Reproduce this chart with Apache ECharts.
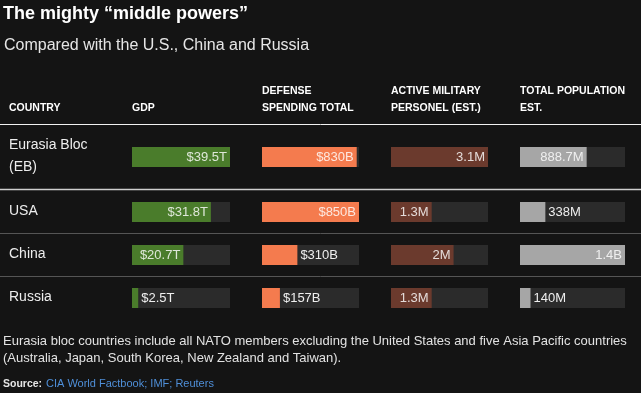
<!DOCTYPE html>
<html>
<head>
<meta charset="utf-8">
<script src="https://cdn.jsdelivr.net/npm/echarts@6/dist/echarts.min.js"></script>
<style>
html,body{margin:0;padding:0;background:#141414;}
#chart{width:641px;height:393px;}
</style>
</head>
<body>
<div id="chart"></div>
<script>
// ---- data ----
const countries = ['Eurasia Bloc\n(EB)', 'USA', 'China', 'Russia'];
const headers = ['COUNTRY', 'GDP', 'DEFENSE\nSPENDING TOTAL', 'ACTIVE MILITARY\nPERSONEL (EST.)', 'TOTAL POPULATION\nEST.'];
const gdpTrillions = [39.5, 31.8, 20.7, 2.5];
const defenseBillions = [830, 850, 310, 157];
const militaryMillions = [3.1, 1.3, 2, 1.3];
const populationMillions = [888.7, 338, 1400, 140];
const titleText = 'The mighty \u201cmiddle powers\u201d';
const subtitleText = 'Compared with the U.S., China and Russia';
const noteText = 'Eurasia bloc countries include all NATO members excluding the United States and five Asia Pacific countries\n(Australia, Japan, South Korea, New Zealand and Taiwan).';
const sourceLabel = 'Source:';
const sourceText = 'CIA World Factbook; IMF; Reuters';

// ---- layout / style ----
const FONT = "'Liberation Sans', Arial, sans-serif";
const metrics = [
  {values: gdpTrillions, color: '#4a7c2b', fmt: v => '$' + v + 'T'},
  {values: defenseBillions, color: '#f47b4e', fmt: v => '$' + v + 'B'},
  {values: militaryMillions, color: '#6b3a2d', fmt: v => v + 'M'},
  {values: populationMillions, color: '#a6a6a6', fmt: v => v >= 1000 ? (v / 1000) + 'B' : v + 'M'}
];
const colLeft = [132, 262, 391, 520];
const colWidth = [98, 97, 97, 105];
const rowCenter = [157, 212, 255, 298];
const barH = 20;
const labelFont = '13px ' + FONT;

const cv = document.createElement('canvas').getContext('2d');
cv.font = labelFont;
function textW(t) { return cv.measureText(t).width; }

const grids = [], xAxes = [], yAxes = [], series = [];
metrics.forEach((m, c) => {
  const max = Math.max(...m.values);
  m.values.forEach((v, r) => {
    const idx = grids.length;
    grids.push({left: colLeft[c], width: colWidth[c], top: rowCenter[r] - barH / 2, height: barH, containLabel: false});
    xAxes.push({type: 'value', gridIndex: idx, min: 0, max: max, show: false});
    yAxes.push({type: 'category', gridIndex: idx, data: [countries[r]], show: false});
    const txt = m.fmt(v);
    const barPx = v / max * colWidth[c];
    const inside = barPx >= textW(txt) + 6;
    series.push({
      type: 'bar', xAxisIndex: idx, yAxisIndex: idx,
      data: [v], barWidth: barH, silent: true, animation: false,
      itemStyle: {color: m.color},
      showBackground: true,
      backgroundStyle: {color: '#2b2b2b'},
      label: {
        show: true,
        position: inside ? 'insideRight' : 'right',
        distance: 3,
        formatter: () => txt,
        color: inside ? 'rgba(255,255,255,0.82)' : '#eeeeee',
        fontSize: 13, fontFamily: FONT
      }
    });
  });
});

const graphics = [];
function text(x, y, t, font, fill, extra) {
  graphics.push({type: 'text', x: x, y: y, silent: true,
    style: Object.assign({text: t, font: font, fill: fill, verticalAlign: 'middle', align: 'left'}, extra || {})});
}
function hline(y, color, w) {
  graphics.push({type: 'line', silent: true, shape: {x1: 0, y1: y, x2: 641, y2: y}, style: {stroke: color, lineWidth: w}});
}
text(3, 14, titleText, 'bold 18px ' + FONT, '#ffffff');
text(4, 46, subtitleText, '16px ' + FONT, '#e6e6e6');
const headerX = [9].concat(colLeft);
headers.forEach((h, i) => {
  const lines = h.split('\n');
  text(headerX[i], lines.length === 2 ? 100 : 108, h, 'bold 10.5px ' + FONT, '#ffffff', {lineHeight: 17});
});
countries.forEach((c, r) => {
  text(9, rowCenter[r] - 1, c, '14px ' + FONT, '#ededed', {lineHeight: 22});
});
hline(124.5, '#f2f2f2', 1);
hline(189.5, '#cfcfcf', 1.5);
hline(233.5, '#555555', 1);
hline(276.5, '#555555', 1);
text(3, 349.5, noteText, '13px ' + FONT, '#e2e2e2', {lineHeight: 17});
text(3, 384, sourceLabel, 'bold 10.5px ' + FONT, '#e6e6e6');
text(46, 384, sourceText, '11px ' + FONT, '#4f8fd8');

const chart = echarts.init(document.getElementById('chart'), null, {renderer: 'canvas'});
chart.setOption({
  backgroundColor: '#141414',
  animation: false,
  grid: grids, xAxis: xAxes, yAxis: yAxes, series: series,
  graphic: graphics
});
</script>
</body>
</html>
